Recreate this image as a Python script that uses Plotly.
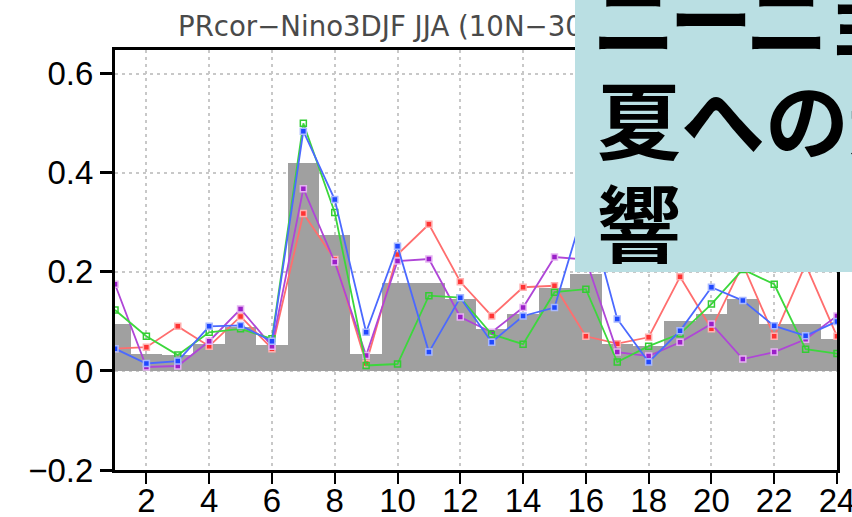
import plotly.graph_objects as go

# ---- data ----
months = list(range(1, 25))
bars = [0.095, 0.034, 0.032, 0.055, 0.088, 0.052, 0.42, 0.274, 0.034, 0.178, 0.178, 0.145,
        0.085, 0.115, 0.168, 0.195, 0.054, 0.05, 0.101, 0.115, 0.145, 0.095, 0.095, 0.064]
blue = [0.045, 0.015, 0.02, 0.09, 0.092, 0.06, 0.484, 0.346, 0.078, 0.252, 0.038, 0.148,
        0.058, 0.111, 0.128, 0.34, 0.105, 0.018, 0.081, 0.169, 0.142, 0.091, 0.071, 0.10]
red = [0.045, 0.048, 0.09, 0.05, 0.11, 0.045, 0.318, 0.225, 0.015, 0.235, 0.296, 0.18,
       0.111, 0.169, 0.172, 0.07, 0.055, 0.068, 0.19, 0.085, 0.215, 0.07, 0.215, 0.07]
green = [0.123, 0.07, 0.032, 0.078, 0.085, 0.065, 0.50, 0.32, 0.011, 0.014, 0.152, 0.148,
         0.074, 0.054, 0.159, 0.165, 0.018, 0.05, 0.075, 0.135, 0.205, 0.175, 0.044, 0.035]
purple = [0.175, 0.008, 0.01, 0.06, 0.125, 0.05, 0.368, 0.22, 0.031, 0.222, 0.226, 0.109,
          0.078, 0.128, 0.23, 0.225, 0.038, 0.03, 0.058, 0.095, 0.024, 0.038, 0.064, 0.111]
x_ticks = list(range(2, 25, 2))
y_ticks = [-0.2, 0, 0.2, 0.4, 0.6]
y_tick_text = ["−0.2", "0", "0.2", "0.4", "0.6"]
title_text = "PRcor−Nino3DJF JJA (10N−30N)"
jp_line1 = ["ニ", "ー", "ニ", "ョ"]
jp_line2 = "夏への影"
jp_line3 = "響"

# ---- layout geometry ----
W_PX, H_PX = 852, 517
L, R, T, B = 115, 837, 50, 470
PW, PH = R - L, B - T


def px(xp):
    return (xp - L) / PW


def py(yp):
    return (B - yp) / PH


fig = go.Figure()
fig.add_trace(go.Bar(x=months, y=bars, width=1, marker=dict(color="#a0a0a0", line=dict(width=0)),
                     showlegend=False))

series = [
    (red, "rgba(255,110,110,1)", "#ff3333", "#ffb0b0", "square"),
    (purple, "rgba(175,70,215,1)", "#9a1fc8", "#e6b3f2", "square"),
    (green, "rgba(60,215,60,1)", "#33cc33", "#33cc33", "square-open"),
    (blue, "rgba(75,105,255,1)", "#1f48ff", "#a8b8ff", "square"),
]
for ys, lc, mc, mlc, sym in series:
    fig.add_trace(go.Scatter(
        x=months, y=ys, mode="lines+markers",
        line=dict(color=lc, width=1.8),
        marker=dict(symbol=sym, size=6, color=mc, line=dict(color=mlc, width=1.5)),
        showlegend=False))

tick_font = dict(family="Liberation Sans, Arial", size=33, color="black")
fig.update_xaxes(range=[1, 24], tickvals=x_ticks, ticks="outside", ticklen=11, tickwidth=2,
                 tickcolor="black", showline=True, linewidth=3, linecolor="black", mirror=True,
                 showgrid=True, gridcolor="#c8c8c8", gridwidth=2, griddash="3px,4px",
                 zeroline=False, tickfont=tick_font, automargin=False, ticklabelstandoff=-12,
                 ticklabeloverflow="allow")
fig.update_yaxes(range=[-0.2, 0.648], tickvals=y_ticks, ticktext=y_tick_text, ticks="outside",
                 ticklen=12, tickwidth=3, tickcolor="black", showline=True, linewidth=3,
                 linecolor="black", mirror=True, showgrid=True, gridcolor="#c8c8c8", gridwidth=2,
                 griddash="3px,4px", zeroline=False, tickfont=tick_font, automargin=False,
                 ticklabeloverflow="allow")

jp_font = dict(family="Noto Sans CJK JP", size=84, color="black")
annotations = [
    dict(text=title_text, x=px(176), y=py(27), xref="paper", yref="paper", xanchor="left",
         yanchor="middle", showarrow=False,
         font=dict(family="DejaVu Sans", size=27.6, color="#4a4a4a")),
    dict(text=" ", x=px(575), y=py(0), xref="paper", yref="paper", xanchor="left", yanchor="top",
         width=285, height=272, bgcolor="#badfe3", borderpad=0, borderwidth=0, showarrow=False),
]
for ch, cx in zip(jp_line1, [634, 711, 787, 862]):
    annotations.append(dict(text="<b>" + ch + "</b>", x=px(cx), y=py(15), xref="paper",
                            yref="paper", xanchor="center", yanchor="middle", showarrow=False,
                            font=jp_font))
for txt, cy in [(jp_line2, 116), (jp_line3, 219)]:
    annotations.append(dict(text="<b>" + txt + "</b>", x=px(595), y=py(cy), xref="paper",
                            yref="paper", xanchor="left", yanchor="middle", showarrow=False,
                            font=jp_font))

fig.update_layout(width=W_PX, height=H_PX, margin=dict(l=L, r=W_PX - R, t=T, b=H_PX - B),
                  plot_bgcolor="white", paper_bgcolor="white", bargap=0,
                  annotations=annotations)

fig.write_html("out.html", config={"displayModeBar": False},
               post_script="document.body.style.margin='0';")
